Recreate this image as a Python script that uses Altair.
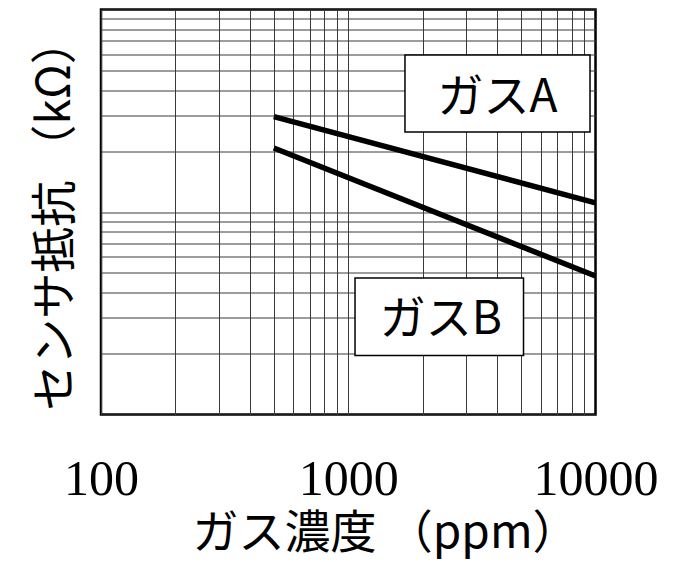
import altair as alt
import pandas as pd

# ---- data ----
conc_ppm = [500, 10000]          # gas concentration (ppm) at line ends
gas_a_kohm = [29.6, 11.1]        # sensor resistance, gas A
gas_b_kohm = [20.7, 4.83]        # sensor resistance, gas B

x_grid = [100, 200, 300, 400, 500, 600, 700, 800, 900,
          1000, 2000, 3000, 4000, 5000, 6000, 7000, 8000, 9000, 10000]
y_grid = [1, 2, 3, 4, 5, 6, 7, 8, 9,
          10, 20, 30, 40, 50, 60, 70, 80, 90, 100]
x_tick_labels = [100, 1000, 10000]

label_texts = ["ガスA", "ガスB"]
label_x = [4015, 2371]
label_y = [31.2, 2.485]
box_x1 = [1696, 1065]
box_x2 = [9502, 5115]
box_y1 = [59.6, 4.72]
box_y2 = [24.8, 1.956]

lines_df = pd.DataFrame({
    "gas": ["A", "A", "B", "B"],
    "ppm": conc_ppm + conc_ppm,
    "kohm": gas_a_kohm + gas_b_kohm,
})
ann_df = pd.DataFrame({
    "text": label_texts, "x": label_x, "y": label_y,
    "x1": box_x1, "x2": box_x2, "y1": box_y1, "y2": box_y2,
})

JP = "Noto Sans CJK JP"

x_scale = alt.Scale(type="log", domain=[100, 10000], nice=False)
y_scale = alt.Scale(type="log", domain=[1, 100], nice=False)

label_expr = ("indexof([" + ", ".join(str(v) for v in x_tick_labels) +
              "], datum.value) >= 0 ? format(datum.value, 'd') : ''")

x_axis = alt.Axis(
    values=x_grid, labelExpr=label_expr, labelFont="Liberation Serif",
    labelFontSize=50, labelColor="black", labelBaseline="alphabetic",
    labelPadding=80, labelFlush=False, labelOverlap=False, labelBound=False,
    ticks=False, tickSize=0, domain=False, grid=True,
    gridColor="#3a3a3a", gridWidth=1, gridOpacity=1,
    title="ガス濃度 （ppm）", titleFont=JP, titleFontSize=46,
    titleFontWeight="normal", titleColor="black", titleX=284, titleY=133,
    titleBaseline="alphabetic", titleAlign="center",
)
y_axis = alt.Axis(
    values=y_grid, labels=False, ticks=False, tickSize=0, domain=False,
    grid=True, gridColor="#3a3a3a", gridWidth=1, gridOpacity=1,
    title="センサ抵抗 （kΩ）", titleFont=JP, titleFontSize=46,
    titleFontWeight="normal", titleColor="black", titleX=-32, titleY=204.5,
    titleBaseline="alphabetic", titleAlign="center", titleAngle=270,
)

lines = alt.Chart(lines_df).mark_line(
    color="black", strokeWidth=5.5, strokeCap="butt"
).encode(
    x=alt.X("ppm:Q", scale=x_scale, axis=x_axis),
    y=alt.Y("kohm:Q", scale=y_scale, axis=y_axis),
    detail="gas:N",
)

boxes = alt.Chart(ann_df).mark_rect(
    fill="white", stroke="black", strokeWidth=1.5
).encode(
    x=alt.X("x1:Q", scale=x_scale),
    x2="x2:Q",
    y=alt.Y("y1:Q", scale=y_scale),
    y2="y2:Q",
)

texts = alt.Chart(ann_df).mark_text(
    font=JP, fontSize=46, color="black", align="center", baseline="alphabetic"
).encode(
    x=alt.X("x:Q", scale=x_scale),
    y=alt.Y("y:Q", scale=y_scale),
    text="text:N",
)

chart = alt.layer(lines, boxes, texts).properties(
    width=494.5, height=405,
    autosize=alt.AutoSizeParams(type="none"),
    padding={"left": 93, "top": 1.5, "right": 70, "bottom": 147},
).configure_view(
    stroke="black", strokeWidth=2.5
)

chart.save("out.html", embed_options={"renderer": "svg", "actions": False})
